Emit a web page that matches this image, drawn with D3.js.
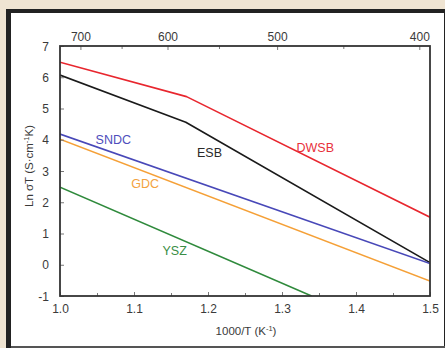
<!DOCTYPE html>
<html><head><meta charset="utf-8">
<script src="https://cdn.jsdelivr.net/npm/d3@7/dist/d3.min.js"></script>
<style>
html,body{margin:0;padding:0;background:#efe4d2;}
svg{display:block;}
text{font-family:"Liberation Sans",Arial,sans-serif;}
</style></head>
<body><svg id="c" width="445" height="348"></svg>
<script>
// Data
const seriesNames = ["DWSB","ESB","SNDC","GDC","YSZ"];
const dwsb = [[1.0,6.48],[1.171,5.38],[1.5,1.52]];
const esb  = [[1.0,6.07],[1.17,4.56],[1.5,0.07]];
const sndc = [[1.0,4.18],[1.5,0.04]];
const gdc  = [[1.0,4.02],[1.5,-0.52]];
const ysz  = [[1.0,2.48],[1.34,-1.0]];
const xTicks = [1.0,1.1,1.2,1.3,1.4,1.5];
const xMinor = [1.05,1.15,1.25,1.35,1.45];
const yTicks = [-1,0,1,2,3,4,5,6,7];
const topLabels = [700,600,500,400];   // °C
const topMinor = [650,550,450];
const labelPos = {SNDC:[1.072,3.88],ESB:[1.202,3.45],DWSB:[1.345,3.6],GDC:[1.115,2.46],YSZ:[1.155,0.31]};
const colors = {DWSB:"#e8262e",ESB:"#1a1a1a",SNDC:"#4848b8",GDC:"#f5a037",YSZ:"#2f8a3c"};
const labelColors = {DWSB:"#e8303a",ESB:"#2a2a2a",SNDC:"#4e4ebc",GDC:"#f3a23e",YSZ:"#3a8d45"};
const data = {DWSB:dwsb,ESB:esb,SNDC:sndc,GDC:gdc,YSZ:ysz};

const svg = d3.select("#c");
// frame
svg.append("rect").attr("x",6).attr("y",9).attr("width",445).attr("height",339).attr("fill","#222");
svg.append("rect").attr("x",11).attr("y",13).attr("width",433).attr("height",333).attr("fill","#fff");
svg.append("rect").attr("x",11).attr("y",346).attr("width",434).attr("height",2).attr("fill","#555");

const L=60,R=430,T=46,B=296;
const x = d3.scaleLinear().domain([1.0,1.5]).range([L,R]);
const y = d3.scaleLinear().domain([-1,7]).range([B,T]);
const txt="#3a3a3a";

const g = svg.append("g");
const line = d3.line().x(d=>x(d[0])).y(d=>y(d[1]));
svg.append("clipPath").attr("id","pc").append("rect").attr("x",L).attr("y",T).attr("width",R-L).attr("height",B-T);
const lg = g.append("g").attr("clip-path","url(#pc)");
seriesNames.forEach(n=>{
  lg.append("path").attr("d",line(data[n])).attr("fill","none")
    .attr("stroke",colors[n]).attr("stroke-width",1.6).attr("stroke-linejoin","round");
});

// axes ticks (inward)
const bottom = d3.axisBottom(x).tickValues(xTicks).tickSizeInner(-4).tickSizeOuter(0).tickFormat(d3.format(".1f")).tickPadding(8);
const ga = g.append("g").attr("transform",`translate(0,${B})`).call(bottom);
const gb = g.append("g").attr("transform",`translate(0,${B})`).call(d3.axisBottom(x).tickValues(xMinor).tickSizeInner(-3).tickSizeOuter(0).tickFormat(""));
const left = d3.axisLeft(y).tickValues(yTicks).tickSizeInner(-4).tickSizeOuter(0).tickFormat(d=>String(d)).tickPadding(11);
const gl = g.append("g").attr("transform",`translate(${L},0)`).call(left);
const toX = c => 1000/(c+273.15);
const topAx = d3.axisTop(x).tickValues(topLabels.map(toX)).tickSizeInner(-4).tickSizeOuter(0).tickFormat((d,i)=>topLabels[i]).tickPadding(5);
const gt = g.append("g").attr("transform",`translate(0,${T})`).call(topAx);
const gt2 = g.append("g").attr("transform",`translate(0,${T})`).call(d3.axisTop(x).tickValues(topMinor.map(toX)).tickSizeInner(-3).tickSizeOuter(0).tickFormat(""));
[ga,gb,gl,gt,gt2].forEach(a=>{
  a.select(".domain").remove();
  a.selectAll(".tick line").attr("stroke","#777").attr("stroke-width",1);
  a.selectAll("text").attr("fill",txt).attr("font-size",12).attr("font-family","'Liberation Sans',Arial,sans-serif");
});
gl.selectAll("text").attr("dy","0.35em");
// box
g.append("rect").attr("x",L).attr("y",T).attr("width",R-L).attr("height",B-T)
  .attr("fill","none").attr("stroke","#333").attr("stroke-width",1.8);

// series labels
seriesNames.forEach(n=>{
  g.append("text").attr("x",x(labelPos[n][0])).attr("y",y(labelPos[n][1]))
    .attr("text-anchor","middle").attr("font-size",12.5).attr("fill",labelColors[n]).text(n);
});

// axis titles
g.append("text").attr("x",(L+R)/2+1).attr("y",335).attr("text-anchor","middle")
  .attr("font-size",11.5).attr("fill",txt)
  .html('1000/T (K<tspan dy="-4" font-size="7.5">-1</tspan><tspan dy="4">)</tspan>');
g.append("text").attr("transform","translate(33,166) rotate(-90)").attr("text-anchor","middle")
  .attr("font-size",11.5).attr("fill",txt)
  .html('Ln σT (S·cm<tspan dy="-4" font-size="7.5">-1</tspan><tspan dy="4">K)</tspan>');
</script></body></html>
